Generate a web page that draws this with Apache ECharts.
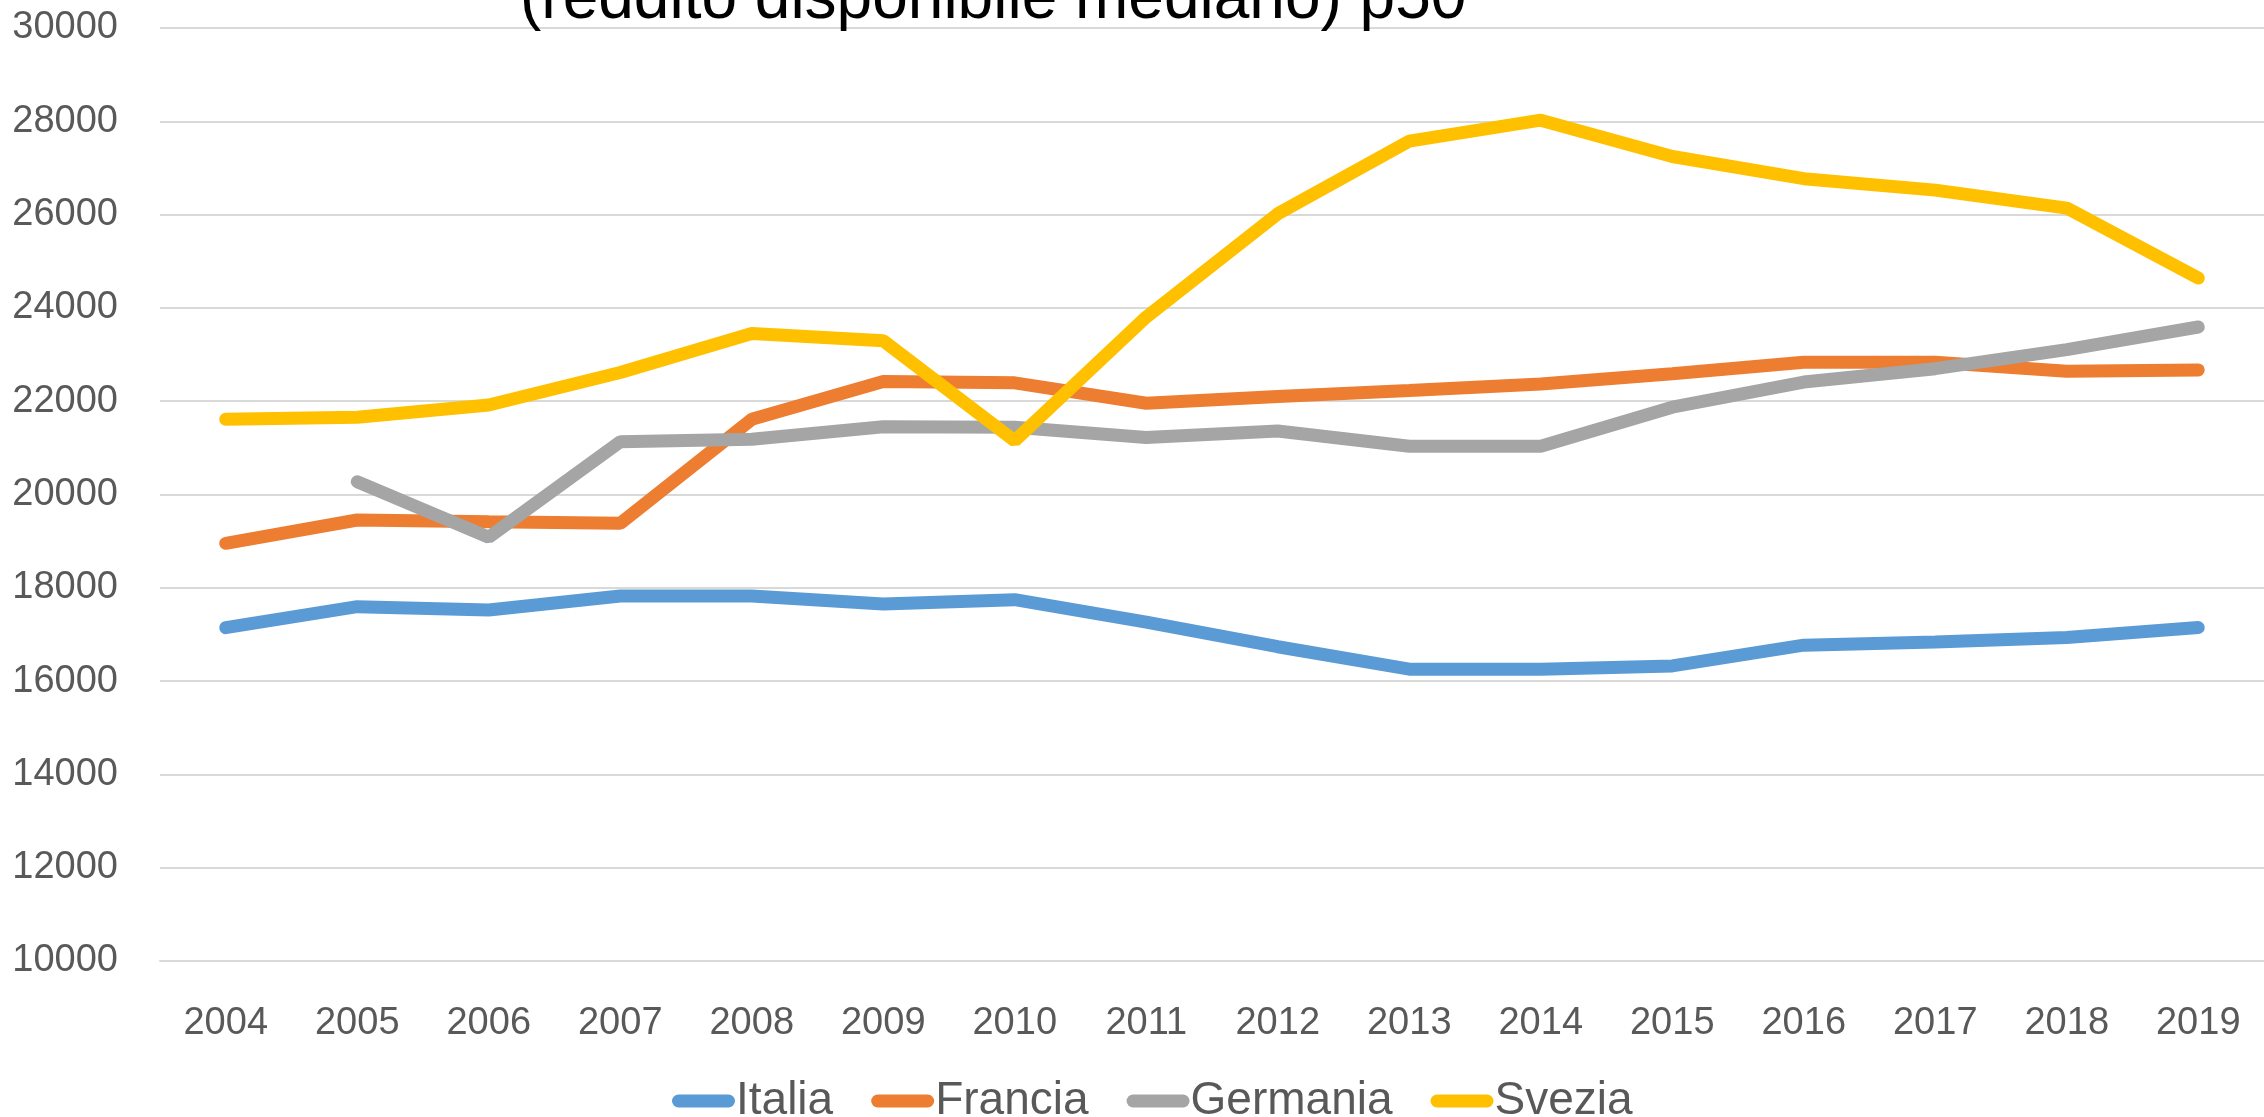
<!DOCTYPE html>
<html>
<head>
<meta charset="utf-8">
<script src="https://cdn.jsdelivr.net/npm/echarts@6/dist/echarts.min.js"></script>
<style>
  html, body { margin: 0; padding: 0; background: #fff; }
  #chart { width: 2264px; height: 1117px; }
</style>
</head>
<body>
<div id="chart"></div>
<script>
const years = ['2004', '2005', '2006', '2007', '2008', '2009', '2010', '2011', '2012', '2013', '2014', '2015', '2016', '2017', '2018', '2019']

const italia = [17145, 17595, 17524, 17824, 17824, 17653, 17745, 17265, 16737, 16255, 16255, 16326, 16770, 16840, 16935, 17147]
const francia = [18954, 19453, 19417, 19382, 21612, 22420, 22394, 21956, 22099, 22229, 22369, 22590, 22836, 22836, 22640, 22671]
const germania = [null, 20275, 19082, 21133, 21183, 21454, 21442, 21220, 21361, 21033, 21033, 21872, 22410, 22697, 23107, 23590]
const svezia = [21612, 21655, 21919, 22614, 23450, 23295, 21150, 23803, 26017, 27574, 28024, 27245, 26770, 26525, 26140, 24639]

const seriesNames = ['Italia', 'Francia', 'Germania', 'Svezia']
const COLORS = ['#5B9BD5', '#ED7D31', '#A5A5A5', '#FFC000']

const FONT = 'Liberation Sans'
const capsule = 'path://M6.5,0 H56.5 A6.5,6.5 0 0 1 56.5,13 H6.5 A6.5,6.5 0 0 1 6.5,0 Z'

const chart = echarts.init(document.getElementById('chart'))

const series = [italia, francia, germania, svezia].map((vals, i) => ({
  name: seriesNames[i],
  type: 'line',
  data: vals,
  symbol: 'none',
  connectNulls: false,
  color: COLORS[i],
  lineStyle: { color: COLORS[i], width: 13, cap: 'round' },
  emphasis: { disabled: true },
}))

chart.setOption({
  animation: false,
  title: {
    text: '(reddito disponibile mediano) p50',
    left: 515,
    top: -37,
    textStyle: { fontFamily: FONT, fontSize: 64, fontWeight: 'normal', color: '#000' },
  },
  legend: {
    data: seriesNames,
    left: 667,
    top: 1073,
    icon: capsule,
    itemWidth: 63,
    itemHeight: 13,
    itemGap: 38,
    textStyle: { fontFamily: FONT, fontSize: 46, color: '#595959', padding: [0, 0, 0, -4] },
  },
  grid: { left: 160, top: 28, width: 2116, height: 933 },
  xAxis: {
    type: 'category',
    data: years,
    boundaryGap: true,
    axisLine: { lineStyle: { color: '#D9D9D9', width: 2 } },
    axisTick: { show: false },
    axisLabel: { fontFamily: FONT, fontSize: 38, color: '#595959', margin: 44 },
  },
  yAxis: {
    type: 'value',
    min: 10000,
    max: 30000,
    interval: 2000,
    axisLine: { show: false },
    axisTick: { show: false },
    splitLine: { lineStyle: { color: '#D9D9D9', width: 2 } },
    axisLabel: { fontFamily: FONT, fontSize: 38, color: '#595959', margin: 42, formatter: v => String(v) },
  },
  series,
})
</script>
</body>
</html>
